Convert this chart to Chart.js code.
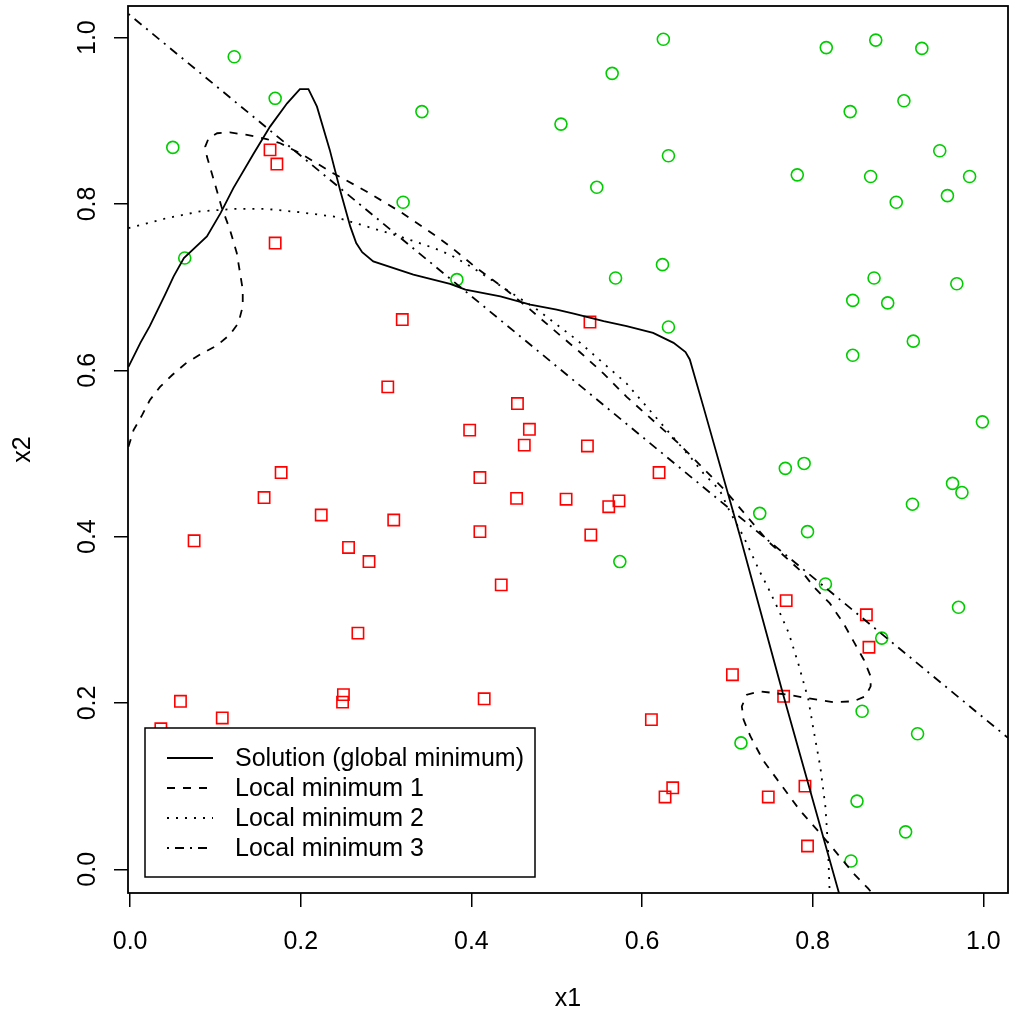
<!DOCTYPE html>
<html>
<head>
<meta charset="utf-8">
<script src="https://cdn.jsdelivr.net/npm/chart.js@4"></script>
<style>
  body { margin: 0; background: #fff; }
</style>
</head>
<body>
<canvas id="chart" width="1009" height="1016"></canvas>
<script>
// class 1 (green circles)
const greenX = [0.122, 0.170, 0.050, 0.342, 0.320, 0.064, 0.625, 0.565, 0.505, 0.631, 0.547, 0.624, 0.569, 0.383,
  0.816, 0.874, 0.928, 0.907, 0.844, 0.949, 0.782, 0.868, 0.984, 0.958, 0.898, 0.872, 0.969,
  0.847, 0.888, 0.918, 0.847, 0.999, 0.790, 0.768, 0.964, 0.975, 0.917, 0.738, 0.794, 0.815,
  0.631, 0.574, 0.971, 0.881, 0.858, 0.923, 0.716, 0.852, 0.909, 0.845];
const greenY = [0.977, 0.927, 0.868, 0.911, 0.802, 0.735, 0.998, 0.957, 0.896, 0.858, 0.820, 0.727, 0.711, 0.709,
  0.988, 0.997, 0.987, 0.924, 0.911, 0.864, 0.835, 0.833, 0.833, 0.810, 0.802, 0.711, 0.704,
  0.684, 0.681, 0.635, 0.618, 0.538, 0.488, 0.482, 0.464, 0.453, 0.439, 0.428, 0.406, 0.343,
  0.652, 0.370, 0.315, 0.278, 0.190, 0.163, 0.152, 0.082, 0.045, 0.010];

// class 2 (red squares)
const redX = [0.164, 0.172, 0.170, 0.319, 0.302, 0.177, 0.157, 0.224, 0.309, 0.075, 0.256, 0.280,
  0.539, 0.454, 0.398, 0.468, 0.462, 0.536, 0.410, 0.620, 0.453, 0.511, 0.573, 0.561, 0.410, 0.540, 0.435,
  0.267, 0.059, 0.250, 0.249, 0.108, 0.036,
  0.415, 0.706, 0.611, 0.636, 0.627,
  0.769, 0.863, 0.866, 0.766, 0.791, 0.748, 0.794];
const redY = [0.865, 0.848, 0.753, 0.661, 0.580, 0.477, 0.447, 0.426, 0.420, 0.395, 0.387, 0.370,
  0.658, 0.560, 0.528, 0.529, 0.510, 0.509, 0.471, 0.477, 0.446, 0.445, 0.443, 0.436, 0.406, 0.402, 0.342,
  0.284, 0.202, 0.210, 0.201, 0.182, 0.169,
  0.205, 0.234, 0.180, 0.098, 0.087,
  0.323, 0.306, 0.267, 0.208, 0.100, 0.087, 0.028];

// solution (global minimum) boundary
const solX = [-0.002, 0.012, 0.023, 0.032, 0.041, 0.051, 0.063, 0.090, 0.106, 0.121, 0.145, 0.164, 0.184, 0.199, 0.209,
  0.219, 0.234, 0.246, 0.258, 0.265, 0.272, 0.285, 0.332, 0.375, 0.393, 0.434, 0.469, 0.500, 0.520, 0.555,
  0.582, 0.613, 0.637, 0.651, 0.656, 0.672, 0.715, 0.766, 0.831];
const solY = [0.604, 0.633, 0.653, 0.672, 0.691, 0.713, 0.735, 0.761, 0.789, 0.819, 0.861, 0.893, 0.921, 0.938, 0.938,
  0.917, 0.865, 0.817, 0.773, 0.753, 0.742, 0.731, 0.715, 0.704, 0.697, 0.689, 0.679, 0.673, 0.668, 0.659,
  0.653, 0.645, 0.633, 0.622, 0.613, 0.556, 0.400, 0.208, -0.029];

// local minimum 1
const lm1X = [-0.002, 0.004, 0.014, 0.023, 0.035, 0.049, 0.066, 0.082, 0.102, 0.117, 0.127, 0.132, 0.132,
  0.125, 0.117, 0.107, 0.098, 0.090, 0.088, 0.092, 0.102, 0.117, 0.137, 0.160, 0.176, 0.199, 0.238, 0.277, 0.316,
  0.359, 0.375, 0.406, 0.438, 0.469, 0.496, 0.527, 0.555, 0.582, 0.643, 0.697, 0.748, 0.789, 0.801, 0.820,
  0.836, 0.848, 0.860, 0.868, 0.868, 0.862, 0.848, 0.824, 0.793, 0.770, 0.738, 0.723, 0.717, 0.719, 0.727,
  0.742, 0.762, 0.785, 0.809, 0.832, 0.848, 0.865, 0.870];
const lm1Y = [0.508, 0.528, 0.546, 0.564, 0.580, 0.594, 0.609, 0.619, 0.630, 0.643, 0.657, 0.677, 0.697,
  0.741, 0.769, 0.797, 0.829, 0.857, 0.869, 0.879, 0.885, 0.886, 0.883, 0.878, 0.873, 0.861, 0.837, 0.815, 0.791,
  0.761, 0.749, 0.723, 0.699, 0.673, 0.649, 0.622, 0.596, 0.568, 0.512, 0.456, 0.394, 0.356, 0.340, 0.320,
  0.296, 0.274, 0.252, 0.232, 0.220, 0.208, 0.202, 0.201, 0.206, 0.210, 0.214, 0.210, 0.196, 0.180, 0.160,
  0.131, 0.103, 0.071, 0.043, 0.015, -0.005, -0.023, -0.029];

// local minimum 2
const lm2X = [-0.002, 0.043, 0.082, 0.121, 0.160, 0.199, 0.238, 0.277, 0.316, 0.356, 0.375, 0.402, 0.477, 0.523,
  0.582, 0.658, 0.672, 0.691, 0.703, 0.719, 0.738, 0.748, 0.760, 0.772, 0.783, 0.795, 0.801, 0.809, 0.815,
  0.818, 0.820];
const lm2Y = [0.771, 0.783, 0.791, 0.794, 0.794, 0.790, 0.785, 0.773, 0.761, 0.747, 0.739, 0.723, 0.673, 0.637,
  0.584, 0.494, 0.476, 0.456, 0.430, 0.400, 0.358, 0.338, 0.312, 0.284, 0.248, 0.204, 0.168, 0.123, 0.075,
  0.027, -0.029];

// local minimum 3
const lm3X = [-0.002, 1.029];
const lm3Y = [1.0285, 0.158];

const xTicks = [0, 0.2, 0.4, 0.6, 0.8, 1.0];

const pts = (xs, ys) => xs.map((x, i) => ({ x: x, y: ys[i] }));
const FONT = 'Liberation Sans, Arial, Helvetica, sans-serif';

const lineSet = (label, xs, ys, dash) => ({
  type: 'scatter',
  label: label,
  data: pts(xs, ys),
  showLine: true,
  borderColor: '#000',
  borderWidth: 1.8,
  borderDash: dash,
  pointRadius: 0,
  fill: false,
  isBoundary: true
});

const legendBox = {
  id: 'legendBox',
  afterDraw(chart) {
    const ctx = chart.ctx;
    const a = chart.chartArea;
    const left = a.left + 17, top = a.bottom - 165, w = 390, h = 149;
    ctx.save();
    ctx.fillStyle = '#fff';
    ctx.fillRect(left, top, w, h);
    ctx.strokeStyle = '#000';
    ctx.lineWidth = 1.5;
    ctx.strokeRect(left, top, w, h);
    ctx.font = '25px ' + FONT;
    ctx.textBaseline = 'middle';
    ctx.fillStyle = '#000';
    chart.data.datasets.filter(d => d.isBoundary).forEach((d, i) => {
      const y = top + 30 + i * 30;
      ctx.beginPath();
      ctx.setLineDash(d.borderDash || []);
      ctx.lineWidth = 1.8;
      ctx.moveTo(left + 22, y);
      ctx.lineTo(left + 68, y);
      ctx.stroke();
      ctx.setLineDash([]);
      ctx.fillText(d.label, left + 90, y + 1);
    });
    // plot frame
    ctx.lineWidth = 1.8;
    ctx.strokeRect(a.left, a.top, a.right - a.left, a.bottom - a.top);
    ctx.restore();
  }
};

new Chart(document.getElementById('chart'), {
  type: 'scatter',
  data: {
    datasets: [
      lineSet('Solution (global minimum)', solX, solY, []),
      lineSet('Local minimum 1', lm1X, lm1Y, [8, 8]),
      lineSet('Local minimum 2', lm2X, lm2Y, [2, 7]),
      lineSet('Local minimum 3', lm3X, lm3Y, [2, 6, 9, 6]),
      {
        label: 'class 1',
        data: pts(greenX, greenY),
        pointStyle: 'circle',
        pointRadius: 6,
        pointBorderWidth: 1.6,
        borderColor: '#00CD00',
        backgroundColor: 'rgba(0,0,0,0)'
      },
      {
        label: 'class 2',
        data: pts(redX, redY),
        pointStyle: 'rect',
        pointRadius: 8,
        pointBorderWidth: 1.6,
        borderColor: '#FF0000',
        backgroundColor: 'rgba(0,0,0,0)'
      }
    ]
  },
  options: {
    responsive: false,
    animation: false,
    events: [],
    layout: { autoPadding: false, padding: { top: 6, right: 1, left: 0, bottom: 0 } },
    plugins: { legend: { display: false }, tooltip: { enabled: false } },
    scales: {
      x: {
        type: 'linear',
        min: -0.0025,
        max: 1.029,
        afterFit: s => { s.height = 123; s.paddingLeft = 0; s.paddingRight = 0; },
        afterBuildTicks: s => { s.ticks = xTicks.map(v => ({ value: v })); },
        grid: { drawOnChartArea: false, drawTicks: true, tickLength: 14, color: '#000', lineWidth: 1.5 },
        border: { display: false },
        ticks: {
          padding: 20,
          color: '#000',
          font: { family: FONT, size: 25 },
          maxRotation: 0,
          callback: v => v.toFixed(1)
        },
        title: { display: true, text: 'x1', color: '#000', font: { family: FONT, size: 25 }, padding: { top: 0, bottom: 2 } }
      },
      y: {
        type: 'linear',
        min: -0.0285,
        max: 1.038,
        afterFit: s => { s.width = 128; s.paddingTop = 0; s.paddingBottom = 0; },
        afterBuildTicks: s => { s.ticks = xTicks.map(v => ({ value: v })); },
        grid: { drawOnChartArea: false, drawTicks: true, tickLength: 14, color: '#000', lineWidth: 1.5 },
        border: { display: false },
        ticks: {
          padding: 9,
          crossAlign: 'center',
          minRotation: 90,
          maxRotation: 90,
          color: '#000',
          font: { family: FONT, size: 25 },
          callback: v => v.toFixed(1)
        },
        title: { display: true, text: 'x2', color: '#000', font: { family: FONT, size: 25 }, padding: { top: 8, bottom: 0 } }
      }
    }
  },
  plugins: [legendBox]
});
</script>
</body>
</html>
